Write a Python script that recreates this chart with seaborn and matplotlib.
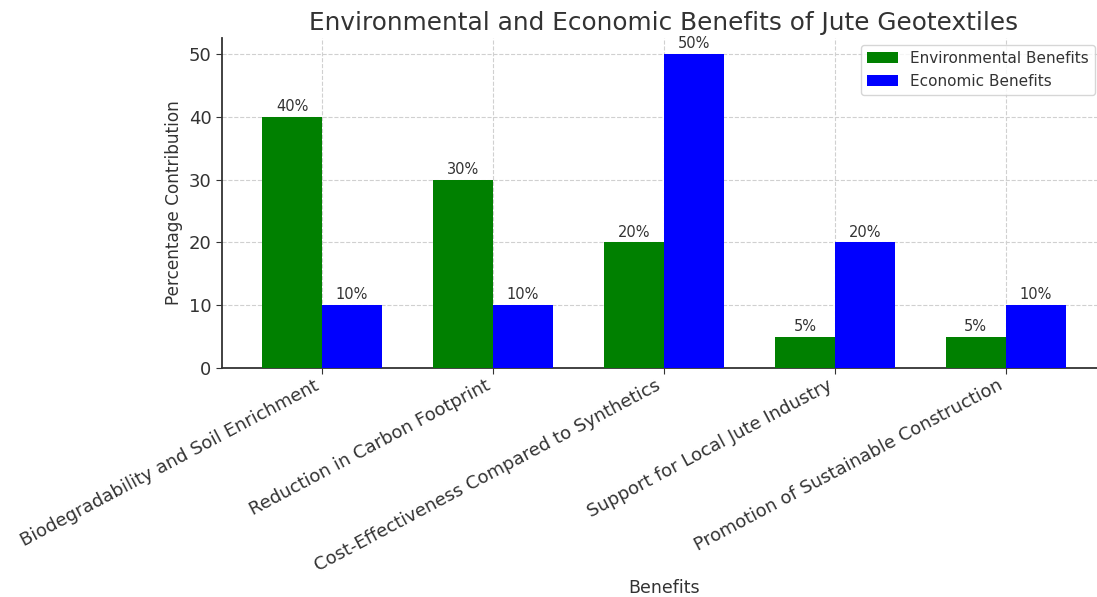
import matplotlib
matplotlib.use("Agg")
import matplotlib.pyplot as plt
import seaborn as sns
import pandas as pd

categories = [
    "Biodegradability and Soil Enrichment",
    "Reduction in Carbon Footprint",
    "Cost-Effectiveness Compared to Synthetics",
    "Support for Local Jute Industry",
    "Promotion of Sustainable Construction",
]
environmental = [40, 30, 20, 5, 5]
economic = [10, 10, 50, 20, 10]
series_names = ["Environmental Benefits", "Economic Benefits"]

df = pd.DataFrame({
    "Benefits": categories * 2,
    "Value": environmental + economic,
    "Type": [series_names[0]] * len(categories) + [series_names[1]] * len(categories),
})

sns.set_style("white")
plt.rcParams["font.family"] = ["DejaVu Sans"]
text_color = "#333333"
plt.rcParams["text.color"] = text_color
plt.rcParams["axes.labelcolor"] = text_color
plt.rcParams["xtick.color"] = text_color
plt.rcParams["ytick.color"] = text_color

fig = plt.figure(figsize=(10.97, 5.97), dpi=100)
ax = fig.add_axes([0.2024, 0.3836, 0.8055, 0.5524])

sns.barplot(data=df, x="Benefits", y="Value", hue="Type",
            palette=["green", "blue"], width=0.7, saturation=1,
            linewidth=0, ax=ax, zorder=3)

for container in ax.containers:
    ax.bar_label(container, labels=[f"{int(v)}%" for v in container.datavalues],
                 fontsize=10.5, color=text_color, padding=2)

ax.set_xlim(-0.585, 4.585)
ax.set_ylim(0, 52.5)
ax.set_yticks([0, 10, 20, 30, 40, 50])
ax.grid(True, linestyle="--", color="#d0d0d0", linewidth=0.8, zorder=0)
ax.set_axisbelow(True)
for s in ["top", "right"]:
    ax.spines[s].set_visible(False)
for s in ["left", "bottom"]:
    ax.spines[s].set_color(text_color)
    ax.spines[s].set_linewidth(1.3)
ax.tick_params(axis="both", labelsize=13, length=4, left=True, bottom=True)
ax.tick_params(axis="x", pad=2)
plt.setp(ax.get_xticklabels(), rotation=28, ha="right")

ax.set_title("Environmental and Economic Benefits of Jute Geotextiles",
             fontsize=17.8, color=text_color)
ax.set_xlabel("Benefits", fontsize=12.5, labelpad=3)
ax.set_ylabel("Percentage Contribution", fontsize=12.2)
ax.legend(loc="upper right", bbox_to_anchor=(1095 / 1097, 1 - 45 / 597),
          bbox_transform=fig.transFigure, borderaxespad=0,
          fontsize=11, frameon=True, edgecolor="#cccccc")

fig.savefig("out.png", dpi=100)
